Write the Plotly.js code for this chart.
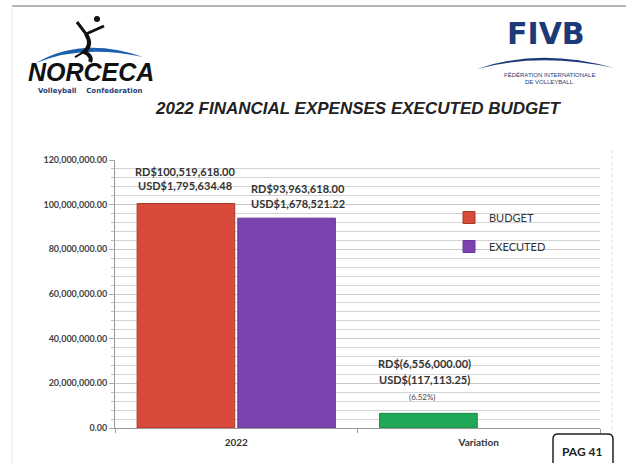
<!DOCTYPE html>
<html>
<head>
<meta charset="utf-8">
<script src="https://cdn.plot.ly/plotly-3.0.1.min.js"></script>
<style>html,body{margin:0;padding:0;background:#fff;}#chart{width:626px;height:463px;}</style>
</head>
<body>
<div id="chart"></div>
<script>
// ---- data ----
const categories = ['2022', 'Variation'];
const budgetValues = [100519618, null];
const executedValues = [93963618, null];
const variationValues = [null, 6556000];
const budgetUSD = 1795634.48;
const executedUSD = 1678521.22;
const variationUSD = 117113.25;
const variationPct = 6.52;
const seriesNames = ['BUDGET', 'EXECUTED'];
const titleText = '2022 FINANCIAL EXPENSES EXECUTED BUDGET';

// ---- helpers ----
const W = 626, H = 463, ML = 115, MR = 26, MT = 160, MB = 35;
const PW = W - ML - MR, PH = H - MT - MB;
const PX = x => (x - ML) / PW;
const PY = y => (H - MB - y) / PH;
const fmt = v => v.toLocaleString('en-US', {minimumFractionDigits: 2, maximumFractionDigits: 2});

const lblFont = {family: 'Lato, "Open Sans", sans-serif', size: 11, color: '#333'};
const C = {xanchor: 'center', yanchor: 'middle', showarrow: false};

const traces = [
  {type: 'bar', name: seriesNames[0], x: categories, y: budgetValues, offsetgroup: 'a', legendgroup: 'b',
   marker: {color: '#d84a39', line: {color: '#a8382b', width: 1}}, hoverinfo: 'none'},
  {type: 'bar', name: seriesNames[1], x: categories, y: executedValues, offsetgroup: 'b', legendgroup: 'e',
   marker: {color: '#7b43b0', line: {color: '#6a3899', width: 1}}, hoverinfo: 'none'},
  {type: 'bar', name: 'Variation', x: categories, y: variationValues, offsetgroup: 'a', showlegend: false,
   marker: {color: '#1fa855', line: {color: '#178a44', width: 1}}, hoverinfo: 'none'}
];

const annotations = [
  Object.assign({x: 0, y: budgetValues[0], xref: 'x', yref: 'y', xshift: -51, yshift: 32,
   text: '<b>RD$' + fmt(budgetValues[0]) + '</b>', font: lblFont}, C),
  Object.assign({x: 0, y: budgetValues[0], xref: 'x', yref: 'y', xshift: -51, yshift: 18,
   text: '<b>USD$' + fmt(budgetUSD) + '</b>', font: lblFont}, C),
  Object.assign({x: 0, y: executedValues[0], xref: 'x', yref: 'y', xshift: 62, yshift: 30,
   text: '<b>RD$' + fmt(executedValues[0]) + '</b>', font: lblFont}, C),
  Object.assign({x: 0, y: executedValues[0], xref: 'x', yref: 'y', xshift: 62, yshift: 15,
   text: '<b>USD$' + fmt(executedUSD) + '</b>', font: lblFont}, C),
  Object.assign({x: 1, y: variationValues[1], xref: 'x', yref: 'y', xshift: -54, yshift: 50,
   text: '<b>RD$(' + fmt(variationValues[1]) + ')</b>', font: lblFont}, C),
  Object.assign({x: 1, y: variationValues[1], xref: 'x', yref: 'y', xshift: -54, yshift: 34,
   text: '<b>USD$(' + fmt(variationUSD) + ')</b>', font: lblFont}, C),
  Object.assign({x: 1, y: variationValues[1], xref: 'x', yref: 'y', xshift: -56, yshift: 16,
   text: '(' + variationPct.toFixed(2) + '%)', font: {family: 'Lato, sans-serif', size: 8, color: '#444'}}, C),
  // title
  Object.assign({xref: 'paper', yref: 'paper', x: PX(358), y: PY(108), text: titleText,
   font: {family: '"Liberation Sans", Arial, sans-serif', size: 17, color: '#222', weight: 'bold', style: 'italic'}}, C),
  // NORCECA logo text
  Object.assign({xref: 'paper', yref: 'paper', x: PX(91), y: PY(72), text: 'NORCECA',
   font: {family: '"Liberation Sans", Arial, sans-serif', size: 25, color: '#111', weight: 900, style: 'italic'}}, C),
  Object.assign({xref: 'paper', yref: 'paper', x: PX(90), y: PY(91), text: '<b>Volleyball    Confederation</b>',
   font: {family: '"DejaVu Sans", sans-serif', size: 7, color: '#1f3d7a'}}, C),
  // FIVB logo
  Object.assign({xref: 'paper', yref: 'paper', x: PX(546), y: PY(33), text: 'FIVB',
   font: {family: '"DejaVu Sans", sans-serif', size: 30, color: '#1d3a78', weight: 'bold'}}, C),
  Object.assign({xref: 'paper', yref: 'paper', x: PX(549), y: PY(75), text: 'FÉDÉRATION INTERNATIONALE',
   font: {family: '"Liberation Sans Narrow", "Liberation Sans", sans-serif', size: 6, color: '#1d3a78'}}, C),
  Object.assign({xref: 'paper', yref: 'paper', x: PX(549), y: PY(82), text: 'DE VOLLEYBALL',
   font: {family: '"Liberation Sans Narrow", "Liberation Sans", sans-serif', size: 6, color: '#1d3a78'}}, C),
  // PAG 41
  Object.assign({xref: 'paper', yref: 'paper', x: PX(582), y: PY(451), text: '<b>PAG 41</b>',
   font: {family: 'Lato, sans-serif', size: 12, color: '#222'}}, C)
];

const p = (x, y) => PX(x).toFixed(4) + ',' + PY(y).toFixed(4);
const shapes = [
  // frame lines
  {type: 'line', xref: 'paper', yref: 'paper', x0: PX(12), x1: PX(626), y0: PY(6), y1: PY(6), line: {color: '#9a9a9a', width: 1.5}},
  {type: 'line', xref: 'paper', yref: 'paper', x0: PX(12), x1: PX(12), y0: PY(6), y1: PY(463), line: {color: '#e6e6e6', width: 1}},
  {type: 'line', xref: 'paper', yref: 'paper', x0: PX(612), x1: PX(612), y0: PY(150), y1: PY(430), line: {color: '#dddddd', width: 1, dash: 'dot'}},
  // NORCECA swoosh
  {type: 'path', xref: 'paper', yref: 'paper', fillcolor: '#1c5fae', line: {width: 0},
   path: 'M' + p(36, 63) + ' Q' + p(82, 36) + ' ' + p(143, 57) + ' Q' + p(82, 44) + ' ' + p(36, 63) + ' Z'},
  // NORCECA player
  {type: 'circle', xref: 'paper', yref: 'paper', x0: PX(94), x1: PX(100), y0: PY(16), y1: PY(22), fillcolor: '#111', line: {width: 0}},
  {type: 'path', xref: 'paper', yref: 'paper', line: {color: '#111', width: 3},
   path: 'M' + p(77, 22) + ' L' + p(86, 34) + ' L' + p(104, 26)},
  {type: 'path', xref: 'paper', yref: 'paper', line: {color: '#111', width: 4},
   path: 'M' + p(86, 34) + ' Q' + p(93, 45) + ' ' + p(84, 52) + ' Q' + p(93, 56) + ' ' + p(90, 62)},
  {type: 'path', xref: 'paper', yref: 'paper', line: {color: '#111', width: 2},
   path: 'M' + p(84, 52) + ' L' + p(75, 57)},
  // FIVB swoosh
  {type: 'path', xref: 'paper', yref: 'paper', fillcolor: '#1d3a78', line: {width: 0},
   path: 'M' + p(477, 69) + ' Q' + p(540, 47) + ' ' + p(614, 68) + ' Q' + p(540, 52) + ' ' + p(477, 69) + ' Z'},
  // PAG 41 rounded box
  {type: 'path', xref: 'paper', yref: 'paper', line: {color: '#222', width: 1.5},
   path: 'M' + p(553, 470) + ' L' + p(553, 439) + ' Q' + p(553, 434) + ' ' + p(558, 434) + ' L' + p(608, 434) +
         ' Q' + p(613, 434) + ' ' + p(613, 439) + ' L' + p(613, 470)}
];

const layout = {
  width: W, height: H,
  margin: {l: ML, r: MR, t: MT, b: MB, pad: 0},
  paper_bgcolor: '#ffffff', plot_bgcolor: '#ffffff',
  barmode: 'group', bargap: 0.17, bargroupgap: 0.03,
  showlegend: true,
  legend: {x: PX(449), y: PY(203), xanchor: 'left', yanchor: 'top', bgcolor: 'rgba(0,0,0,0)',
    font: {family: 'Lato, sans-serif', size: 11, color: '#333'}, tracegroupgap: 10, traceorder: 'grouped',
    itemwidth: 30},
  xaxis: {type: 'category', range: [-0.5, 1.5], showgrid: false, showline: true, linecolor: '#999', linewidth: 1,
    ticks: 'outside', tickson: 'boundaries', ticklen: 4, tickcolor: '#999', tickangle: 0, ticklabelstandoff: 5,
    tickfont: {family: 'Lato, sans-serif', size: 10, color: '#333', weight: 'bold'}, fixedrange: true},
  yaxis: {range: [0, 120000000], tickvals: [0, 20000000, 40000000, 60000000, 80000000, 100000000, 120000000],
    tickformat: ',.2f', showline: true, linecolor: '#999', linewidth: 1,
    ticks: 'outside', ticklen: 5, tickcolor: '#aaa', gridcolor: '#c9c9c9', gridwidth: 1, zeroline: false,
    minor: {dtick: 4000000, tick0: 0, showgrid: true, gridcolor: '#d4d4d4', gridwidth: 1, ticks: 'outside', ticklen: 3, tickcolor: '#bbb'},
    tickfont: {family: 'Lato, sans-serif', size: 9, color: '#444', weight: 'bold'}, ticklabelstandoff: 0, fixedrange: true},
  annotations: annotations,
  shapes: shapes
};

Plotly.newPlot('chart', traces, layout, {displayModeBar: false, staticPlot: true});
</script>
</body>
</html>
